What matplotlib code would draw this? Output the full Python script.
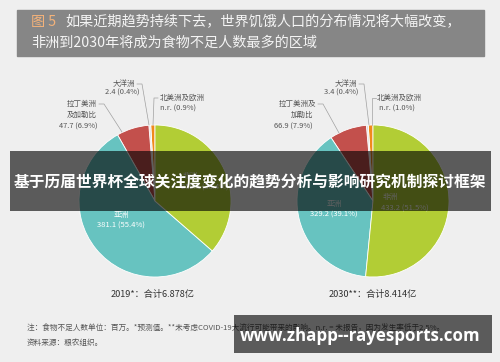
import numpy as np
import matplotlib
matplotlib.use('Agg')
import matplotlib.pyplot as plt
from matplotlib.patches import Rectangle

plt.rcParams['font.family'] = ['Noto Sans CJK SC', 'DejaVu Sans']

# data (millions of undernourished people)
regions = ['北美洲及欧洲', '大洋洲', '拉丁美洲及加勒比', '亚洲', '非洲']
colors = ['#f08a1c', '#dcdcdc', '#c3504c', '#67c3c0', '#b2cd35']
share_2019 = [0.9, 0.4, 6.9, 55.4, 36.4]
share_2030 = [1.0, 0.4, 7.9, 39.1, 51.5]
value_2019 = ['n.r.', '2.4', '47.7', '381.1', '250.3']
value_2030 = ['n.r.', '3.4', '66.9', '329.2', '433.2']
captions = ['2019*：合计6.878亿', '2030**：合计8.414亿']

W, H = 500, 362
fig = plt.figure(figsize=(5.0, 3.62), dpi=100)
fig.patch.set_facecolor('#efefef')
ax = fig.add_axes([0, 0, 1, 1])


def Y(y):
    return H - y


# title box
ax.add_patch(Rectangle((17, Y(56)), 467, 46, color='#868686', zorder=1))
ax.text(31, Y(22), '图 5', color='#f3b27a', fontsize=10.2, va='center', zorder=2)
ax.text(65, Y(22), '如果近期趋势持续下去，世界饥饿人口的分布情况将大幅改变，',
        color='#f4f4f4', fontsize=10.2, va='center', zorder=2)
ax.text(31, Y(43), '非洲到2030年将成为食物不足人数最多的区域',
        color='#f4f4f4', fontsize=10.2, va='center', zorder=2)

lab_kw = dict(fontsize=5.4, color='#555555', zorder=3)
line_kw = dict(color='#a0a0a0', lw=0.5, zorder=3)
in_kw = dict(fontsize=5.5, color='white', zorder=3)

pies = [(155, share_2019), (373, share_2030)]
for cx, shares in pies:
    ax.pie(shares, colors=colors, startangle=90, counterclock=True,
           center=(cx, Y(201)), radius=76, frame=True,
           wedgeprops=dict(edgecolor='white', linewidth=0.6))


def pct(s):
    return '(%.1f%%)' % s


# left pie labels
ax.text(135, Y(84), '大洋洲', ha='right', va='center', **lab_kw)
ax.text(140, Y(93), value_2019[1] + ' ' + pct(share_2019[1]), ha='right', va='center', **lab_kw)
ax.plot([137, 142, 149], [Y(84), Y(84), Y(125)], **line_kw)
ax.text(160, Y(98), regions[0], ha='left', va='center', **lab_kw)
ax.text(160, Y(109), value_2019[0] + ' ' + pct(share_2019[0]), ha='left', va='center', **lab_kw)
ax.plot([158, 154, 153], [Y(98), Y(98), Y(125)], **line_kw)
ax.text(97, Y(104), '拉丁美洲', ha='right', va='center', **lab_kw)
ax.text(97, Y(115), '及加勒比', ha='right', va='center', **lab_kw)
ax.text(98, Y(127), value_2019[2] + ' ' + pct(share_2019[2]), ha='right', va='center', **lab_kw)
ax.plot([99, 104, 122], [Y(104), Y(104), Y(132)], **line_kw)
ax.text(121, Y(215), regions[3], ha='center', va='center', **in_kw)
ax.text(121, Y(226), value_2019[3] + ' ' + pct(share_2019[3]), ha='center', va='center', **in_kw)
ax.text(183, Y(176), regions[4], ha='left', va='center', **in_kw)
ax.text(181, Y(188), value_2019[4] + ' ' + pct(share_2019[4]), ha='left', va='center', **in_kw)

# right pie labels
ax.text(357, Y(84), '大洋洲', ha='right', va='center', **lab_kw)
ax.text(358, Y(93), value_2030[1] + ' ' + pct(share_2030[1]), ha='right', va='center', **lab_kw)
ax.plot([359, 364, 369], [Y(84), Y(84), Y(125)], **line_kw)
ax.text(377, Y(98), regions[0], ha='left', va='center', **lab_kw)
ax.text(379, Y(109), value_2030[0] + ' ' + pct(share_2030[0]), ha='left', va='center', **lab_kw)
ax.plot([376, 372, 372], [Y(98), Y(98), Y(125)], **line_kw)
ax.text(316, Y(104), '拉丁美洲及', ha='right', va='center', **lab_kw)
ax.text(313, Y(115), '加勒比', ha='right', va='center', **lab_kw)
ax.text(313, Y(127), value_2030[2] + ' ' + pct(share_2030[2]), ha='right', va='center', **lab_kw)
ax.plot([318, 323, 339], [Y(104), Y(104), Y(133)], **line_kw)
ax.text(334, Y(204), regions[3], ha='center', va='center', **in_kw)
ax.text(334, Y(215), value_2030[3] + ' ' + pct(share_2030[3]), ha='center', va='center', **in_kw)
ax.text(383, Y(197), regions[4], ha='left', va='center', **in_kw)
ax.text(381, Y(209), value_2030[4] + ' ' + pct(share_2030[4]), ha='left', va='center', **in_kw)

# captions
ax.text(153, Y(294), captions[0], ha='center', va='center', fontsize=6.6, color='#333333', zorder=3)
ax.text(373, Y(294), captions[1], ha='center', va='center', fontsize=6.6, color='#333333', zorder=3)

# footnote
ax.text(27, Y(329), '注：食物不足人数单位：百万。*预测值。**未考虑COVID-19大流行可能带来的影响。n.r. = 未报告，因为发生率低于2.5%。',
        ha='left', va='center', fontsize=5.5, color='#555555', zorder=3)
ax.text(27, Y(343), '资料来源：粮农组织。', ha='left', va='center', fontsize=5.5, color='#555555', zorder=3)

# overlay band and watermark
ax.add_patch(Rectangle((10, Y(211)), 481, 60, color='black', alpha=0.62, lw=0, zorder=5))
ax.text(250, Y(182), '基于历届世界杯全球关注度变化的趋势分析与影响研究机制探讨框架',
        ha='center', va='center', fontsize=11.3, fontweight='bold', color='white', zorder=6)
ax.add_patch(Rectangle((234, Y(353)), 258, 38, color='black', alpha=0.62, lw=0, zorder=5))
ax.text(360, Y(336), 'www.zhapp--rayesports.com', ha='center', va='center',
        fontsize=12.2, fontweight='bold', color='white', family=['Open Sans', 'DejaVu Sans'], zorder=6)

ax.set_xlim(0, W)
ax.set_ylim(0, H)
ax.set_aspect('equal')
ax.axis('off')

fig.savefig('out.png', dpi=100, facecolor=fig.get_facecolor())
